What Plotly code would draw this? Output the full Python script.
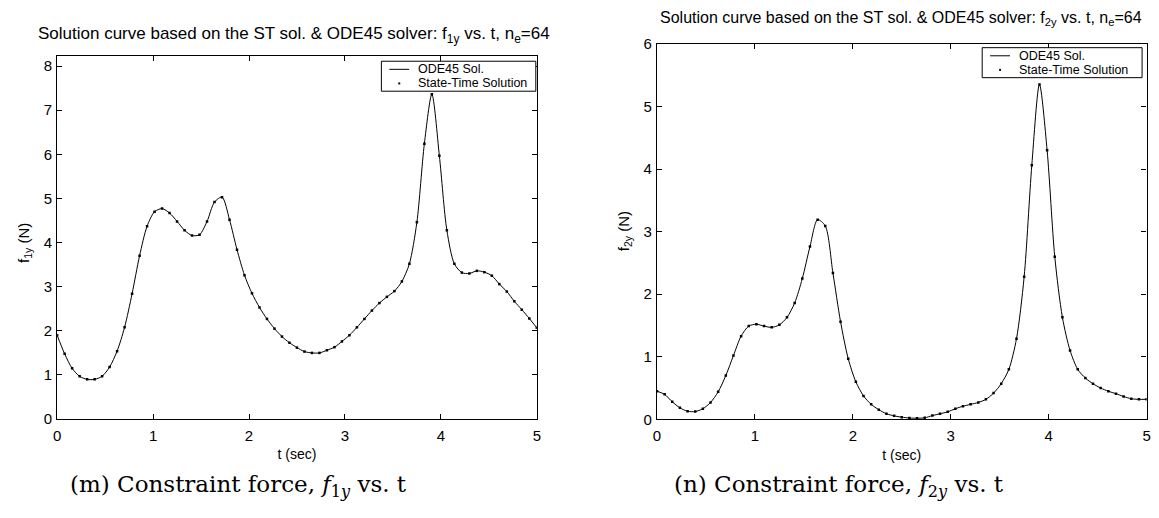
import plotly.graph_objects as go

# ---- data ----
n_e = 64
t_vals = [k * 5.0 / n_e for k in range(n_e + 1)]

f1y_vals = [1.90, 1.48, 1.15, 0.97, 0.90, 0.90, 0.97, 1.18, 1.54, 2.08,
            2.84, 3.70, 4.37, 4.70, 4.77, 4.67, 4.48, 4.28, 4.16, 4.18,
            4.48, 4.92, 5.03, 4.52, 3.84, 3.26, 2.85, 2.53, 2.27, 2.05,
            1.87, 1.73, 1.62, 1.53, 1.50, 1.50, 1.56, 1.63, 1.76, 1.90,
            2.08, 2.27, 2.46, 2.63, 2.77, 2.90, 3.12, 3.52, 4.46, 6.24,
            7.36, 5.97, 4.28, 3.52, 3.32, 3.30, 3.36, 3.33, 3.25, 3.06,
            2.89, 2.67, 2.48, 2.28, 2.07]

f2y_vals = [0.45, 0.40, 0.28, 0.185, 0.13, 0.125, 0.17, 0.27, 0.44, 0.70,
            1.02, 1.33, 1.49, 1.52, 1.49, 1.47, 1.51, 1.63, 1.86, 2.25,
            2.76, 3.19, 3.09, 2.34, 1.56, 0.97, 0.60, 0.375, 0.24, 0.155,
            0.09, 0.056, 0.035, 0.022, 0.018, 0.025, 0.06, 0.09, 0.12, 0.17,
            0.21, 0.24, 0.27, 0.32, 0.42, 0.57, 0.80, 1.29, 2.28, 4.06,
            5.35, 4.30, 2.60, 1.63, 1.10, 0.80, 0.66, 0.57, 0.50, 0.45,
            0.41, 0.365, 0.33, 0.32, 0.32]

x_ticks = [0, 1, 2, 3, 4, 5]
y1_ticks = [0, 1, 2, 3, 4, 5, 6, 7, 8]
y2_ticks = [0, 1, 2, 3, 4, 5, 6]

titles = ["Solution curve based on the ST sol. &amp; ODE45 solver: f<sub>1y</sub> vs. t, n<sub>e</sub>=64",
          "Solution curve based on the ST sol. &amp; ODE45 solver: f<sub>2y</sub> vs. t, n<sub>e</sub>=64"]
ylabels = ["f<sub>1y</sub> (N)", "f<sub>2y</sub> (N)"]
xlabel = "t (sec)"
captions = ["(m) Constraint force, <i>f</i><sub>1<i>y</i></sub> vs. t",
            "(n) Constraint force, <i>f</i><sub>2<i>y</i></sub> vs. t"]
legend_names = ["ODE45 Sol.", "State-Time Solution"]

W, H = 1159, 518
SANS = "Liberation Sans, Arial, Helvetica, sans-serif"
SERIF = "DejaVu Serif, serif"


def px(x):
    return x / W


def py(y):
    return 1 - y / H


fig = go.Figure()

# left panel
fig.add_trace(go.Scatter(x=t_vals, y=f1y_vals, mode="lines", name=legend_names[0],
                         line=dict(color="black", width=1, shape="spline", smoothing=0.8),
                         xaxis="x", yaxis="y", showlegend=False))
fig.add_trace(go.Scatter(x=t_vals, y=f1y_vals, mode="markers", name=legend_names[1],
                         marker=dict(color="black", size=2.5, symbol="square"),
                         xaxis="x", yaxis="y", showlegend=False))
# right panel
fig.add_trace(go.Scatter(x=t_vals, y=f2y_vals, mode="lines", name=legend_names[0],
                         line=dict(color="black", width=1, shape="spline", smoothing=0.8),
                         xaxis="x2", yaxis="y2", showlegend=False))
fig.add_trace(go.Scatter(x=t_vals, y=f2y_vals, mode="markers", name=legend_names[1],
                         marker=dict(color="black", size=2.5, symbol="square"),
                         xaxis="x2", yaxis="y2", showlegend=False))

L = dict(x0=53.5, x1=536.5, y0=49, y1=424)
R = dict(x0=657.5, x1=1150.5, y0=36, y1=424.3)

axis_common = dict(showgrid=False, zeroline=False, showline=True, linecolor="black",
                   linewidth=1.2, mirror="ticks", ticks="inside", ticklen=5,
                   tickcolor="black", tickwidth=1,
                   tickfont=dict(family=SANS, size=15, color="black"))
xtitle_font = dict(family=SANS, size=14, color="black")

fig.update_layout(
    width=W, height=H, margin=dict(l=0, r=0, t=0, b=0),
    paper_bgcolor="white", plot_bgcolor="white",
    showlegend=False,
    xaxis=dict(domain=[px(L["x0"]), px(L["x1"])], range=[0, 5], tickvals=x_ticks,
               anchor="y", ticklabelstandoff=3,
               title=dict(text=xlabel, font=xtitle_font, standoff=6),
               **axis_common),
    yaxis=dict(domain=[py(L["y1"]), py(L["y0"])], range=[0, 8.22], tickvals=y1_ticks,
               anchor="x", ticklabelstandoff=1, **axis_common),
    xaxis2=dict(domain=[px(R["x0"]), px(R["x1"])], range=[0, 5], tickvals=x_ticks,
                anchor="y2", ticklabelstandoff=3,
                title=dict(text=xlabel, font=xtitle_font, standoff=6),
                **axis_common),
    yaxis2=dict(domain=[py(R["y1"]), py(R["y0"])], range=[0, 6], tickvals=y2_ticks,
                anchor="x2", ticklabelstandoff=1, **axis_common),
)

annos = []
shapes = []

# titles
annos.append(dict(text=titles[0], x=px(292), y=py(27), xref="paper", yref="paper",
                  xanchor="center", yanchor="middle", showarrow=False,
                  font=dict(family=SANS, size=17, color="black")))
annos.append(dict(text=titles[1], x=px(903), y=py(10), xref="paper", yref="paper",
                  xanchor="center", yanchor="middle", showarrow=False,
                  font=dict(family=SANS, size=16, color="black")))
# y labels
annos.append(dict(text=ylabels[0], x=px(20), y=py(242), xref="paper", yref="paper",
                  xanchor="center", yanchor="middle", showarrow=False, textangle=-90,
                  font=dict(family=SANS, size=15, color="black")))
annos.append(dict(text=ylabels[1], x=px(625), y=py(230), xref="paper", yref="paper",
                  xanchor="center", yanchor="middle", showarrow=False, textangle=-90,
                  font=dict(family=SANS, size=15, color="black")))
# captions
annos.append(dict(text=captions[0], x=px(64), y=py(493), xref="paper", yref="paper",
                  xanchor="left", yanchor="middle", showarrow=False,
                  font=dict(family=SERIF, size=23, color="black")))
annos.append(dict(text=captions[1], x=px(673), y=py(493), xref="paper", yref="paper",
                  xanchor="left", yanchor="middle", showarrow=False,
                  font=dict(family=SERIF, size=23, color="black")))


# compact MATLAB-style legends (box, line sample, dot sample, labels)
def add_legend(x0, y0, x1, y1):
    r1 = y0 + (y1 - y0) * 0.27
    r2 = y0 + (y1 - y0) * 0.74
    shapes.append(dict(type="rect", xref="paper", yref="paper",
                       x0=px(x0), x1=px(x1), y0=py(y1), y1=py(y0),
                       line=dict(color="black", width=1), fillcolor="white", layer="above"))
    shapes.append(dict(type="line", xref="paper", yref="paper",
                       x0=px(x0 + 8), x1=px(x0 + 28), y0=py(r1), y1=py(r1),
                       line=dict(color="black", width=1), layer="above"))
    shapes.append(dict(type="rect", xref="paper", yref="paper",
                       x0=px(x0 + 17), x1=px(x0 + 19), y0=py(r2 + 1), y1=py(r2 - 1),
                       line=dict(color="black", width=0), fillcolor="black", layer="above"))
    for name, r in zip(legend_names, [r1, r2]):
        annos.append(dict(text=name, x=px(x0 + 35), y=py(r), xref="paper", yref="paper",
                          xanchor="left", yanchor="middle", showarrow=False,
                          font=dict(family=SANS, size=12.5, color="black")))


add_legend(380, 54, 535.5, 85)
add_legend(985, 40, 1146, 71)

fig.update_layout(annotations=annos, shapes=shapes)

fig.write_html("out.html")
